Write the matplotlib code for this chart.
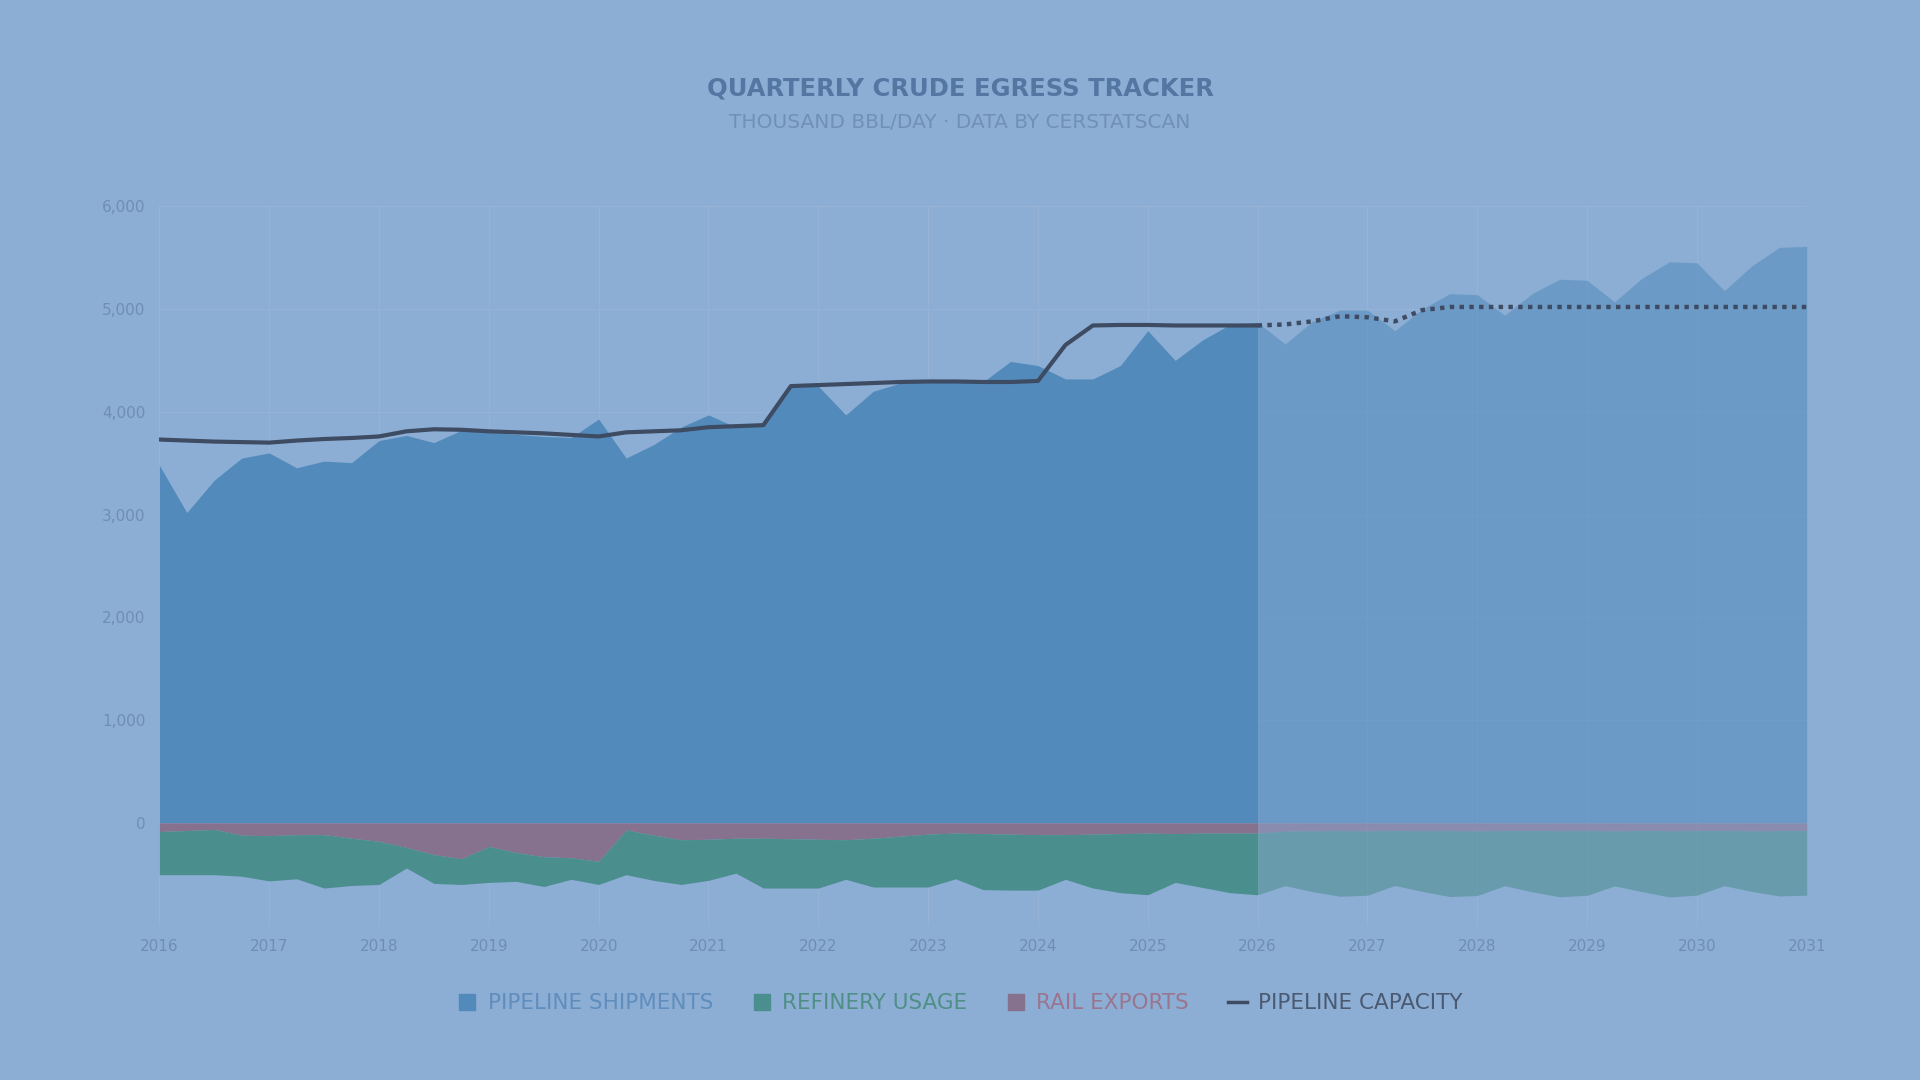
import numpy as np
import matplotlib
matplotlib.use("Agg")
import matplotlib.pyplot as plt
from matplotlib.lines import Line2D

# quarterly points, 2016 Q1 .. 2031 Q1
quarters = [2016 + i * 0.25 for i in range(61)]
split = 40  # 2026.0 -> start of forecast

pipeline = [3480, 3020, 3335, 3550,
            3600, 3455, 3520, 3505,
            3720, 3770, 3700, 3820,
            3800, 3780, 3760, 3750,
            3930, 3550, 3680, 3850,
            3970, 3850, 3870, 4240,
            4250, 3970, 4200, 4280,
            4300, 4300, 4290, 4490,
            4450, 4320, 4320, 4450,
            4790, 4500, 4700, 4850,
            4870, 4660, 4880, 4990,
            4990, 4790, 5000, 5150,
            5140, 4940, 5150, 5290,
            5280, 5070, 5300, 5460,
            5450, 5180, 5420, 5600,
            5610]

capacity = [3730, 3720, 3710, 3705,
            3700, 3720, 3735, 3745,
            3760, 3810, 3830, 3825,
            3810, 3800, 3790, 3775,
            3760, 3800, 3810, 3820,
            3850, 3860, 3870, 4250,
            4260, 4270, 4280, 4290,
            4295, 4295, 4290, 4290,
            4300, 4650, 4840, 4845,
            4845, 4840, 4840, 4840,
            4840, 4850, 4880, 4930,
            4920, 4880, 4990, 5020,
            5020, 5020, 5020, 5020,
            5020, 5020, 5020, 5020,
            5020, 5020, 5020, 5020,
            5020]

rail = [85, 75, 65, 120,
        125, 115, 115, 150,
        180, 240, 310, 350,
        230, 290, 330, 340,
        375, 70, 120, 165,
        160, 150, 150, 155,
        160, 165, 150, 130,
        110, 100, 105, 110,
        115, 115, 110, 105,
        100, 105, 100, 100,
        100, 80, 78, 76,
        78, 75, 77, 76,
        78, 76, 75, 77,
        76, 78, 75, 77,
        76, 75, 78, 76,
        76]

# total below zero (rail + refinery)
neg_total = [505, 505, 505, 520,
             565, 545, 635, 610,
             600, 440, 590, 600,
             580, 570, 620, 550,
             600, 505, 560, 600,
             560, 490, 635, 635,
             635, 550, 625, 625,
             625, 545, 650, 655,
             655, 550, 635, 680,
             700, 580, 630, 680,
             700, 612, 670, 715,
             705, 610, 668, 718,
             708, 612, 672, 720,
             706, 614, 670, 722,
             704, 612, 668, 712,
             705]
refinery = [t - r for t, r in zip(neg_total, rail)]

x = np.array(quarters)
pipe = np.array(pipeline)
cap = np.array(capacity)
r = -np.array(rail)
rf = r - np.array(refinery)

bg = "#8DAED4"
c_pipe = "#528BBB"
c_ref = "#4A8E8E"
c_rail = "#86718F"
c_cap = "#3E4C63"

fig = plt.figure(figsize=(19.2, 10.8), dpi=100, facecolor=bg)
ax = fig.add_axes([0.083, 0.143, 0.858, 0.666], facecolor=bg)

h = slice(0, split + 1)
f = slice(split, None)
for sl, a in ((h, 1.0), (f, 0.55)):
    ax.fill_between(x[sl], 0, pipe[sl], color=c_pipe, alpha=a, lw=0)
    ax.fill_between(x[sl], 0, r[sl], color=c_rail, alpha=a, lw=0)
    ax.fill_between(x[sl], r[sl], rf[sl], color=c_ref, alpha=a, lw=0)

ax.plot(x[h], cap[h], color=c_cap, lw=3, solid_capstyle="round")
ax.plot(x[f], cap[f], color=c_cap, lw=3.2, ls=(0, (1, 1.2)))

ax.set_xlim(2016, 2031)
ax.set_ylim(-1000, 6000)
ax.set_xticks(range(2016, 2032))
ax.set_yticks(range(0, 6001, 1000))
ax.set_yticklabels([f"{v:,}" for v in range(0, 6001, 1000)])
ax.tick_params(colors="#6F8DB6", labelsize=11, length=0, pad=10)
ax.grid(True, color="#96B3D6", lw=0.8)
ax.set_axisbelow(True)
for s in ax.spines.values():
    s.set_visible(False)

fig.text(0.5, 0.918, "QUARTERLY CRUDE EGRESS TRACKER", ha="center", va="center",
         fontsize=17.5, fontweight="bold", color="#5476A3")
fig.text(0.5, 0.887, "THOUSAND BBL/DAY · DATA BY CERSTATSCAN", ha="center", va="center",
         fontsize=14.5, color="#7090B9")

handles = [Line2D([], [], marker="s", ls="none", color=c_pipe, markersize=12),
           Line2D([], [], marker="s", ls="none", color=c_ref, markersize=12),
           Line2D([], [], marker="s", ls="none", color=c_rail, markersize=12),
           Line2D([], [], color=c_cap, lw=2.5)]
labels = ["PIPELINE SHIPMENTS", "REFINERY USAGE", "RAIL EXPORTS", "PIPELINE CAPACITY"]
leg = fig.legend(handles, labels, loc="center", bbox_to_anchor=(0.5, 0.071), ncol=4,
                 frameon=False, fontsize=15.5, handlelength=0.9, handletextpad=0.5,
                 columnspacing=1.8)
for t, c in zip(leg.get_texts(), ["#5F8DBD", "#4F8F86", "#9A7590", "#4A5A72"]):
    t.set_color(c)

fig.savefig("out.png", dpi=100, facecolor=bg)
